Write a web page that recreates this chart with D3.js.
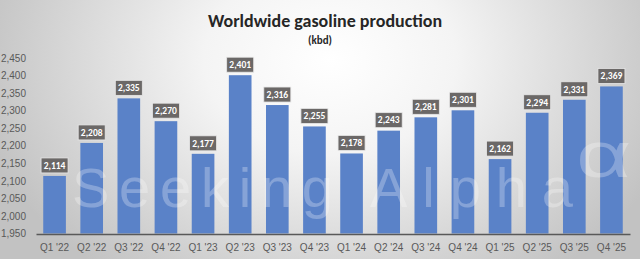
<!DOCTYPE html>
<html>
<head>
<meta charset="utf-8">
<script src="https://cdn.jsdelivr.net/npm/d3@7"></script>
<style>
  html, body { margin: 0; padding: 0; }
  body { width: 640px; height: 259px; overflow: hidden; }
  svg { display: block; font-family: Calibri, Carlito, Lato, "Open Sans", sans-serif; }
</style>
</head>
<body>
<div id="app"></div>
<script>
const quarters = ["Q1 '22", "Q2 '22", "Q3 '22", "Q4 '22", "Q1 '23", "Q2 '23", "Q3 '23", "Q4 '23",
  "Q1 '24", "Q2 '24", "Q3 '24", "Q4 '24", "Q1 '25", "Q2 '25", "Q3 '25", "Q4 '25"];
const production = [2114, 2208, 2335, 2270, 2177, 2401, 2316, 2255,
  2178, 2243, 2281, 2301, 2162, 2294, 2331, 2369];
const yTicks = [1950, 2000, 2050, 2100, 2150, 2200, 2250, 2300, 2350, 2400, 2450];

const width = 640, height = 259;
const margin = { top: 58, right: 10, bottom: 25, left: 36 };

const svg = d3.select('#app').append('svg')
  .attr('width', width)
  .attr('height', height);

// background: radial grey gradient, light in upper middle
const defs = svg.append('defs');
const grad = defs.append('radialGradient')
  .attr('id', 'bg')
  .attr('gradientUnits', 'userSpaceOnUse')
  .attr('cx', 330).attr('cy', 60).attr('r', 360)
  .attr('gradientTransform', 'translate(330,60) scale(1,0.75) translate(-330,-60)');
grad.append('stop').attr('offset', '0%').attr('stop-color', '#ffffff');
grad.append('stop').attr('offset', '35%').attr('stop-color', '#f4f4f4');
grad.append('stop').attr('offset', '100%').attr('stop-color', '#c2c2c2');

svg.append('rect')
  .attr('width', width).attr('height', height)
  .attr('fill', 'url(#bg)');

const x = d3.scaleBand()
  .domain(quarters)
  .range([margin.left, width - margin.right])
  .paddingInner(0.39)
  .paddingOuter(0.195);

const y = d3.scaleLinear()
  .domain([1950, 2450])
  .range([height - margin.bottom - 0.5, margin.top]);

// title
svg.append('text')
  .attr('x', 325).attr('y', 27)
  .attr('text-anchor', 'middle')
  .attr('font-size', 18)
  .attr('font-weight', 'bold')
  .attr('fill', '#262626')
  .text('Worldwide gasoline production');

svg.append('text')
  .attr('x', 320).attr('y', 44)
  .attr('text-anchor', 'middle')
  .attr('font-size', 11)
  .attr('font-weight', 'bold')
  .attr('fill', '#262626')
  .text('(kbd)');

// y axis (labels only)
const yAxis = svg.append('g')
  .attr('transform', 'translate(' + (margin.left - 7) + ',0)')
  .call(d3.axisLeft(y).tickValues(yTicks).tickSize(0).tickFormat(d3.format(',')));
yAxis.select('.domain').remove();
yAxis.selectAll('text')
  .attr('fill', '#595959')
  .attr('font-size', 10)
  .style('font-family', 'inherit');

// bars
svg.append('g').selectAll('rect')
  .data(production)
  .join('rect')
  .attr('x', (d, i) => x(quarters[i]))
  .attr('y', d => y(d))
  .attr('width', x.bandwidth())
  .attr('height', d => y(1950) - y(d))
  .attr('fill', '#5a82c8');

// watermark
const wm = svg.append('g')
  .attr('fill', '#ffffff')
  .attr('fill-opacity', 0.27)
  .style('font-family', '"Liberation Sans", sans-serif')
  .attr('font-size', 56);
wm.append('text')
  .attr('x', 72).attr('y', 207)
  .attr('textLength', 261)
  .attr('lengthAdjust', 'spacing')
  .text('Seeking');
wm.append('text')
  .attr('x', 370).attr('y', 207)
  .attr('textLength', 203)
  .attr('lengthAdjust', 'spacing')
  .text('Alpha');
wm.append('text')
  .attr('transform', 'translate(576,177) scale(1.5,1)')
  .attr('font-size', 64)
  .text('\u03B1');

// x axis
const xAxis = svg.append('g')
  .attr('transform', 'translate(0,' + (height - margin.bottom) + ')')
  .call(d3.axisBottom(x).tickSize(0).tickSizeOuter(0));
xAxis.select('.domain')
  .attr('stroke', '#595959')
  .attr('stroke-width', 1.5);
xAxis.selectAll('text')
  .attr('dy', '1.35em')
  .attr('fill', '#595959')
  .attr('font-size', 10)
  .style('font-family', 'inherit');

// value labels
const labels = svg.append('g').selectAll('g')
  .data(production)
  .join('g')
  .attr('transform', (d, i) => 'translate(' + (x(quarters[i]) + x.bandwidth() / 2) + ',' + (y(d) - 10.5) + ')');

labels.append('rect')
  .attr('x', -13.5).attr('y', -7.5)
  .attr('width', 27).attr('height', 15)
  .attr('fill', '#6b6867')
  .attr('stroke', '#e8e8e8')
  .attr('stroke-width', 0.8);

labels.append('text')
  .attr('text-anchor', 'middle')
  .attr('dy', '0.35em')
  .attr('font-size', 9.5)
  .attr('font-weight', 'bold')
  .attr('fill', '#ffffff')
  .text(d => d3.format(',')(d));
</script>
</body>
</html>
